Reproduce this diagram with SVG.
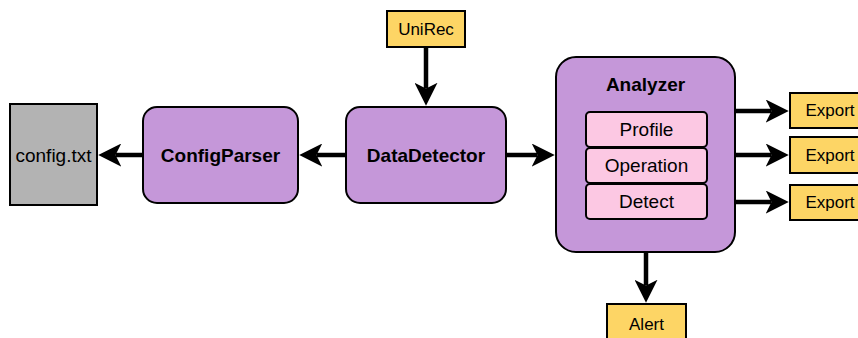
<svg xmlns="http://www.w3.org/2000/svg" width="858" height="338" viewBox="0 0 858 338">
<style>
text{font-family:"Liberation Sans",Arial,sans-serif;fill:#000;text-anchor:middle;dominant-baseline:central}
.box{fill:#c597d9;stroke:#000;stroke-width:2}
.inner{fill:#fcc8e3;stroke:#000;stroke-width:2}
.io{fill:#fdd565;stroke:#000;stroke-width:2}
.file{fill:#b3b3b3;stroke:#000;stroke-width:2}
.b{font-weight:bold;font-size:19px}
.n{font-size:19px}
.s{font-size:17px}
.c{stroke:#000;stroke-width:4.5;fill:none;marker-end:url(#ah)}
</style>
<defs>
<marker id="ah" viewBox="0 0 10 10" refX="2.5" refY="5" markerWidth="23" markerHeight="23" markerUnits="userSpaceOnUse" orient="auto">
<path d="M0,0 L10,5 L0,10 L2.5,5 Z" fill="#000"/>
</marker>
</defs>
<g id="config-txt"><rect class="file" x="10" y="104" width="87" height="101"/><text class="n" x="53.5" y="155">config.txt</text></g>
<g id="ConfigParser"><rect class="box" x="143" y="107" width="155" height="96" rx="14"/><text class="b" x="220.5" y="155">ConfigParser</text></g>
<g id="DataDetector"><rect class="box" x="346" y="107" width="160" height="96" rx="14"/><text class="b" x="426" y="155">DataDetector</text></g>
<g id="UniRec"><rect class="io" x="387" y="11" width="78" height="36"/><text class="s" x="426" y="29">UniRec</text></g>
<g id="Analyzer"><rect class="box" x="556" y="57" width="179" height="195" rx="20"/><text class="b" x="645.5" y="84">Analyzer</text>
<g id="Profile"><rect class="inner" x="586" y="112" width="121" height="35" rx="4"/><text class="n" x="646.5" y="129.5">Profile</text></g>
<g id="Operation"><rect class="inner" x="586" y="148" width="121" height="35" rx="4"/><text class="n" x="646.5" y="165.5">Operation</text></g>
<g id="Detect"><rect class="inner" x="586" y="184" width="121" height="35" rx="4"/><text class="n" x="646.5" y="201.5">Detect</text></g>
</g>
<g id="Export1"><rect class="io" x="790" y="93" width="80" height="35"/><text class="s" x="830" y="110.5">Export</text></g>
<g id="Export2"><rect class="io" x="790" y="137" width="80" height="36"/><text class="s" x="830" y="155">Export</text></g>
<g id="Export3"><rect class="io" x="790" y="185" width="80" height="35"/><text class="s" x="830" y="202.5">Export</text></g>
<g id="Alert"><rect class="io" x="607" y="304" width="79" height="40"/><text class="s" x="646.5" y="324">Alert</text></g>
<g id="connectors">
<line class="c" x1="143" y1="155" x2="115.5" y2="155"/>
<line class="c" x1="346" y1="155" x2="316.5" y2="155"/>
<line class="c" x1="426" y1="47" x2="426" y2="88.5"/>
<line class="c" x1="506" y1="155" x2="537.5" y2="155"/>
<line class="c" x1="735" y1="111" x2="771.5" y2="111"/>
<line class="c" x1="735" y1="155" x2="771.5" y2="155"/>
<line class="c" x1="735" y1="202" x2="771.5" y2="202"/>
<line class="c" x1="646" y1="252" x2="646" y2="285.5"/>
</g>
</svg>
